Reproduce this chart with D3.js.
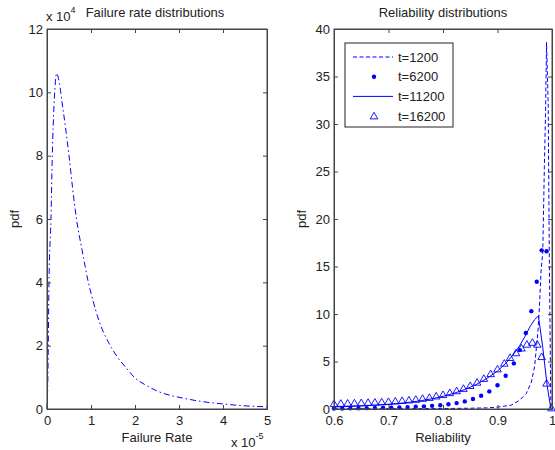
<!DOCTYPE html>
<html>
<head>
<meta charset="utf-8">
<script src="https://cdnjs.cloudflare.com/ajax/libs/d3/7.8.5/d3.min.js"></script>
<style>
  body { margin: 0; background: #fff; }
  text { font-family: "Liberation Sans", Arial, sans-serif; fill: #222; }
</style>
</head>
<body>
<svg width="555" height="450"></svg>
<script>
// failure rate pdf (x in 1e-5, y in 1e4)
var rateX = [0, 0.02, 0.045, 0.09, 0.12, 0.16, 0.22, 0.28, 0.35, 0.42, 0.5, 0.58, 0.67, 0.8, 0.94, 1.05,
             1.19, 1.4, 1.6, 1.8, 2.0, 2.25, 2.5, 2.75, 3.0, 3.25, 3.5, 4.0, 4.5, 5.0];
var ratePdf = [0, 1.0, 4.0, 6.0, 8.0, 9.6, 10.6, 10.3, 9.6, 8.9, 8.0, 7.0, 6.0, 5.0, 4.0, 3.4,
               2.75, 2.1, 1.64, 1.3, 0.98, 0.75, 0.57, 0.45, 0.37, 0.3, 0.24, 0.16, 0.1, 0.07];

// reliability pdfs
var t1200X = [0.6, 0.7, 0.8, 0.85, 0.88, 0.9, 0.925, 0.94, 0.953, 0.962, 0.968, 0.974, 0.977, 0.98, 0.983,
              0.986, 0.988, 0.99, 0.993, 0.995, 0.997, 0.998];
var t1200Y = [0.02, 0.03, 0.05, 0.08, 0.12, 0.2, 0.4, 0.9, 1.65, 2.8, 4.45, 8.0, 10.8, 14.6, 16.4,
              25.5, 30.7, 38.6, 32, 16.4, 5, 0];

var t6200X = [0.6, 0.615, 0.63, 0.645, 0.66, 0.675, 0.69, 0.705, 0.72, 0.735, 0.75, 0.765, 0.78, 0.795,
              0.81, 0.825, 0.84, 0.855, 0.87, 0.885, 0.9, 0.915, 0.93, 0.941, 0.952, 0.962, 0.972, 0.981, 0.99];
var t6200Y = [0.05, 0.06, 0.07, 0.08, 0.09, 0.1, 0.12, 0.14, 0.17, 0.2, 0.24, 0.28, 0.33, 0.4,
              0.5, 0.62, 0.8, 1.05, 1.4, 1.85, 2.5, 3.5, 4.8, 6.2, 8.0, 10.3, 13.4, 16.7, 16.6];

var t11200X = [0.6, 0.62, 0.64, 0.66, 0.68, 0.7, 0.72, 0.74, 0.76, 0.78, 0.8, 0.82, 0.84, 0.86, 0.88,
               0.9, 0.915, 0.93, 0.94, 0.95, 0.96, 0.968, 0.975, 0.983, 0.991, 0.998];
var t11200Y = [0.22, 0.25, 0.3, 0.35, 0.42, 0.5, 0.6, 0.72, 0.88, 1.08, 1.33, 1.65, 2.05, 2.55, 3.2,
               4.0, 4.8, 5.8, 6.6, 7.6, 8.7, 9.4, 9.8, 6.5, 2.5, 0];

var t16200X = [0.6, 0.6125, 0.625, 0.6375, 0.65, 0.6625, 0.675, 0.6875, 0.7, 0.7125, 0.725, 0.7375, 0.75,
               0.7625, 0.775, 0.7875, 0.8, 0.8125, 0.825, 0.8375, 0.85, 0.8625, 0.875, 0.8875, 0.9, 0.9125,
               0.923, 0.934, 0.944, 0.954, 0.964, 0.973, 0.981, 0.99, 0.999];
var t16200Y = [0.55, 0.58, 0.6, 0.62, 0.65, 0.68, 0.7, 0.73, 0.77, 0.82, 0.87, 0.93, 1.0,
               1.1, 1.2, 1.35, 1.5, 1.7, 1.9, 2.15, 2.45, 2.8, 3.2, 3.7, 4.2, 4.8,
               5.4, 5.9, 6.4, 6.8, 7.0, 6.8, 5.5, 2.7, 0.1];

var legendLabels = ["t=1200", "t=6200", "t=11200", "t=16200"];

var svg = d3.select("svg");
var blue = "#0000ff";
var axisColor = "#444";

function zip(xs, ys) { return xs.map(function(x, i) { return [x, ys[i]]; }); }

// draw one set of box axes with inward ticks
function drawFrame(x, y, xTicks, yTicks, xFmt, yFmt) {
  var g = svg.append("g");
  var x0 = x.range()[0], x1 = x.range()[1], y0 = y.range()[0], y1 = y.range()[1];
  g.append("g").attr("transform", "translate(0," + y0 + ")")
    .call(d3.axisBottom(x).tickValues(xTicks).tickSize(-4).tickPadding(7).tickFormat(xFmt));
  g.append("g").attr("transform", "translate(0," + y1 + ")")
    .call(d3.axisTop(x).tickValues(xTicks).tickSize(-4).tickFormat(""));
  g.append("g").attr("transform", "translate(" + x0 + ",0)")
    .call(d3.axisLeft(y).tickValues(yTicks).tickSize(-4).tickPadding(4).tickFormat(yFmt));
  g.append("g").attr("transform", "translate(" + x1 + ",0)")
    .call(d3.axisRight(y).tickValues(yTicks).tickSize(-4).tickFormat(""));
  g.selectAll(".domain").attr("stroke", axisColor);
  g.selectAll(".tick line").attr("stroke", axisColor);
  g.selectAll(".tick text").style("font-size", "13px").attr("fill", "#222");
  g.append("rect").attr("x", x0).attr("y", y1).attr("width", x1 - x0).attr("height", y0 - y1)
    .attr("fill", "none").attr("stroke", axisColor);
  return g;
}

// ---------- left panel ----------
var xL = d3.scaleLinear().domain([0, 5]).range([47, 267]);
var yL = d3.scaleLinear().domain([0, 12]).range([409, 29]);

svg.append("path")
  .datum(zip(rateX, ratePdf))
  .attr("fill", "none")
  .attr("stroke", blue)
  .attr("stroke-width", 1)
  .attr("stroke-dasharray", "6,3,1.5,3")
  .attr("d", d3.line().x(function(d){ return xL(d[0]); }).y(function(d){ return yL(d[1]); }).curve(d3.curveMonotoneX));

drawFrame(xL, yL, [0, 1, 2, 3, 4, 5], [0, 2, 4, 6, 8, 10, 12], d3.format("d"), d3.format("d"));

svg.append("text").attr("x", 155).attr("y", 17).attr("text-anchor", "middle")
  .style("font-size", "13px").text("Failure rate distributions");
var e4 = svg.append("text").attr("x", 46).attr("y", 21).style("font-size", "13px");
e4.append("tspan").text("x 10");
e4.append("tspan").attr("dy", -8).style("font-size", "9px").text("4");
var e5 = svg.append("text").attr("x", 231).attr("y", 447).style("font-size", "13px");
e5.append("tspan").text("x 10");
e5.append("tspan").attr("dy", -8).style("font-size", "9px").text("-5");
svg.append("text").attr("x", 157).attr("y", 442).attr("text-anchor", "middle")
  .style("font-size", "13px").text("Failure Rate");
svg.append("text").attr("transform", "translate(19,219) rotate(-90)").attr("text-anchor", "middle")
  .style("font-size", "13px").text("pdf");

// ---------- right panel ----------
var xR = d3.scaleLinear().domain([0.6, 1]).range([334, 552]);
var yR = d3.scaleLinear().domain([0, 40]).range([409, 29]);
var lineR = d3.line().x(function(d){ return xR(d[0]); }).y(function(d){ return yR(d[1]); });

svg.append("path").datum(zip(t1200X, t1200Y))
  .attr("fill", "none").attr("stroke", blue).attr("stroke-width", 1)
  .attr("stroke-dasharray", "4,2.5").attr("d", lineR);

svg.append("path").datum(zip(t11200X, t11200Y))
  .attr("fill", "none").attr("stroke", blue).attr("stroke-width", 1).attr("d", lineR);

svg.append("g").selectAll("circle")
  .data(zip(t6200X, t6200Y)).enter().append("circle")
  .attr("cx", function(d){ return xR(d[0]); })
  .attr("cy", function(d){ return yR(d[1]); })
  .attr("r", 2.2).attr("fill", blue);

var tri = "M0,-3.8L3.8,2.8L-3.8,2.8Z";
svg.append("g").selectAll("path")
  .data(zip(t16200X, t16200Y)).enter().append("path")
  .attr("transform", function(d){ return "translate(" + xR(d[0]) + "," + yR(d[1]) + ")"; })
  .attr("d", tri).attr("fill", "none").attr("stroke", blue).attr("stroke-width", 0.9);

drawFrame(xR, yR, [0.6, 0.7, 0.8, 0.9, 1], [0, 5, 10, 15, 20, 25, 30, 35, 40],
  function(d){ return d === 1 ? "1" : d3.format(".1f")(d); }, d3.format("d"));

svg.append("text").attr("x", 443).attr("y", 17).attr("text-anchor", "middle")
  .style("font-size", "13px").text("Reliability distributions");
svg.append("text").attr("x", 443).attr("y", 442).attr("text-anchor", "middle")
  .style("font-size", "13px").text("Reliability");
svg.append("text").attr("transform", "translate(306,219) rotate(-90)").attr("text-anchor", "middle")
  .style("font-size", "13px").text("pdf");

// legend
var lg = svg.append("g");
lg.append("rect").attr("x", 345).attr("y", 43).attr("width", 108).attr("height", 84)
  .attr("fill", "#fff").attr("stroke", "#222");
legendLabels.forEach(function(lab, i) {
  var cy = 57 + i * 19.7;
  if (i === 0) lg.append("line").attr("x1", 353).attr("x2", 393).attr("y1", cy).attr("y2", cy)
    .attr("stroke", blue).attr("stroke-dasharray", "4,2.5");
  if (i === 1) lg.append("circle").attr("cx", 374).attr("cy", cy).attr("r", 2.2).attr("fill", blue);
  if (i === 2) lg.append("line").attr("x1", 353).attr("x2", 393).attr("y1", cy).attr("y2", cy)
    .attr("stroke", blue);
  if (i === 3) lg.append("path").attr("transform", "translate(374," + cy + ")").attr("d", tri)
    .attr("fill", "none").attr("stroke", blue).attr("stroke-width", 0.9);
  lg.append("text").attr("x", 398).attr("y", cy + 4.5).style("font-size", "13px").text(lab);
});
</script>
</body>
</html>
